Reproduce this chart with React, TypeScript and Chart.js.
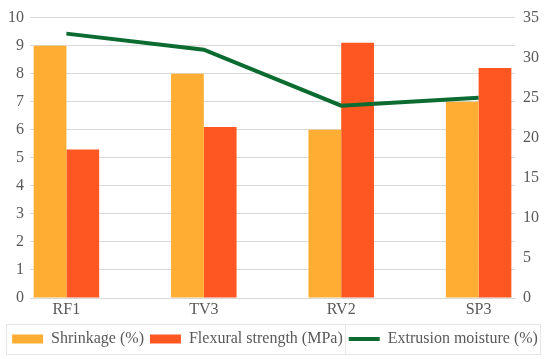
import React, { useEffect, useRef } from "react";
import { Chart, registerables } from "chart.js";

Chart.register(...registerables);

const categories = ["RF1", "TV3", "RV2", "SP3"];
const shrinkage = [9, 8, 6, 7];
const flexural = [5.3, 6.1, 9.1, 8.2];
const moisture = [33, 31, 24, 25];

const ORANGE = "#FFAE33";
const RED = "#FF5722";
const GREEN = "#0B6B30";
const GRID = "#D9D9D9";
const TEXT = "#595959";
const FONT = { family: "Liberation Serif, Tinos, Times New Roman, DejaVu Serif, serif", size: 16 };

const legendBorder = {
  id: "legendBorder",
  afterDraw(chart: any) {
    const boxes = chart.legend && chart.legend.legendHitBoxes;
    if (!boxes || !boxes.length) return;
    const ctx = chart.ctx;
    const first = boxes[0];
    const last = boxes[boxes.length - 1];
    const left = first.left - 6;
    const right = last.left + last.width + 2;
    const top = first.top - 7;
    const bottom = first.top + first.height + 7;
    ctx.save();
    ctx.strokeStyle = "#E6E6E6";
    ctx.lineWidth = 1;
    ctx.strokeRect(Math.round(left) + 0.5, Math.round(top) + 0.5, Math.round(right - left), Math.round(bottom - top));
    const sep = boxes[2].left - 4;
    ctx.beginPath();
    ctx.moveTo(Math.round(sep) + 0.5, Math.round(top));
    ctx.lineTo(Math.round(sep) + 0.5, Math.round(bottom));
    ctx.stroke();
    ctx.restore();
  },
};

export default function App() {
  const ref = useRef<HTMLCanvasElement>(null);
  useEffect(() => {
    if (!ref.current) return;
    Chart.defaults.font.family = FONT.family;
    Chart.defaults.font.size = 16;
    Chart.defaults.color = TEXT;
    const chart = new Chart(ref.current, {
      type: "bar",
      data: {
        labels: categories,
        datasets: [
          {
            type: "bar",
            label: "Shrinkage (%)",
            data: shrinkage,
            backgroundColor: ORANGE,
            borderWidth: 0,
            yAxisID: "y",
            order: 1,
            categoryPercentage: 0.477,
            barPercentage: 1,
          },
          {
            type: "bar",
            label: "Flexural strength (MPa)",
            data: flexural,
            backgroundColor: RED,
            borderWidth: 0,
            yAxisID: "y",
            order: 1,
            categoryPercentage: 0.477,
            barPercentage: 1,
          },
          {
            type: "line",
            label: "Extrusion moisture (%)",
            data: moisture,
            borderColor: GREEN,
            backgroundColor: GREEN,
            borderWidth: 4,
            pointRadius: 0,
            pointHoverRadius: 0,
            tension: 0,
            yAxisID: "y1",
            order: 0,
          },
        ] as any,
      },
      options: {
        animation: false,
        responsive: false,
        maintainAspectRatio: false,
        layout: { padding: { top: 8, bottom: 2, left: 0, right: 0 } },
        plugins: {
          tooltip: { enabled: false },
          legend: {
            position: "bottom",
            labels: {
              sort: (a: any, b: any) => a.datasetIndex - b.datasetIndex,
              usePointStyle: true,
              pointStyleWidth: 31,
              boxHeight: 9,
              padding: 6,
              color: TEXT,
              font: FONT,
              generateLabels: (c: any) =>
                Chart.defaults.plugins.legend.labels.generateLabels(c).map((it: any) => {
                  if (it.datasetIndex === 2) {
                    return { ...it, pointStyle: "line", lineWidth: 4, strokeStyle: GREEN, fillStyle: GREEN };
                  }
                  return { ...it, pointStyle: "rect", lineWidth: 0 };
                }),
            },
          },
        },
        scales: {
          x: {
            grid: { display: false, drawTicks: false },
            border: { display: true, color: GRID },
            ticks: { color: TEXT, padding: 2, font: FONT },
            afterBuildTicks: (s: any) => {
              s._startValue = -0.265;
              s._valueRange = 3.53;
            },
            afterFit: (s: any) => {
              s.height = 27;
            },
          },
          y: {
            position: "left",
            min: 0,
            max: 10,
            ticks: { stepSize: 1, color: TEXT, padding: 6, font: FONT },
            grid: { color: GRID, drawTicks: false },
            border: { display: false },
            afterFit: (s: any) => {
              s.width = 30;
            },
          },
          y1: {
            position: "right",
            min: 0,
            max: 35,
            ticks: { stepSize: 5, color: TEXT, padding: 8, font: FONT },
            grid: { display: false, drawTicks: false },
            border: { display: false },
            afterFit: (s: any) => {
              s.width = 35;
            },
          },
        },
      } as any,
      plugins: [legendBorder],
    });
    return () => chart.destroy();
  }, []);
  return (
    <div style={{ position: "fixed", left: 0, top: 0, width: 550, height: 359, background: "#fff" }}>
      <canvas ref={ref} width={550} height={359} style={{ width: 550, height: 359 }} />
    </div>
  );
}
